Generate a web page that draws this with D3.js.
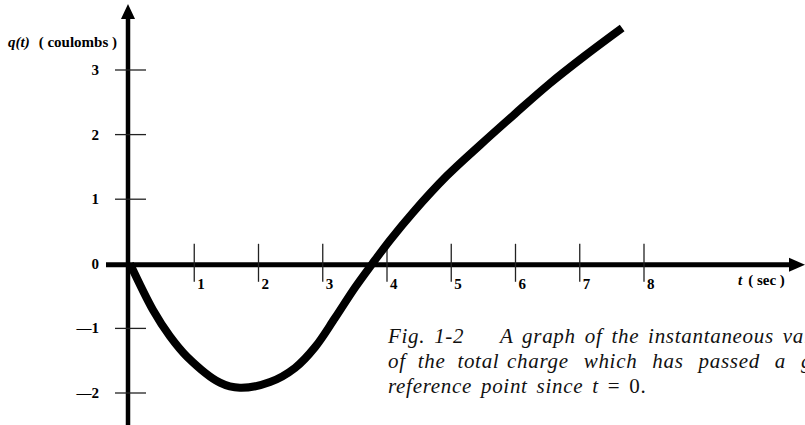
<!doctype html>
<html lang="en">

<head>
    <meta charset="UTF-8" />
    <script src="https://d3js.org/d3.v7.min.js"></script>
    <title>q(t)</title>
    <style>
        body { margin: 0; background: #fff; }
    </style>
</head>

<body>
    <div id="chart"></div>
    <script>
        // Values
        const tValues = [0, 0.36, 0.62, 0.89, 1.40, 1.71, 2.18, 2.57, 2.88, 3.19, 3.50, 3.77, 4.05, 4.40, 4.93, 5.45, 5.99, 6.52, 7.08, 7.66]
        const qValues = [0, -0.72, -1.12, -1.44, -1.84, -1.92, -1.83, -1.61, -1.29, -0.84, -0.37, 0, 0.37, 0.79, 1.36, 1.84, 2.32, 2.78, 3.22, 3.65]
        const xTicks = [1, 2, 3, 4, 5, 6, 7, 8]
        const yTicks = [-2, -1, 0, 1, 2, 3]
        const captionLines = [
            ["Fig. 1-2", "A graph of the instantaneous value"],
            ["of the total", "charge which has passed a given"]
        ]

        const W = 805, H = 425
        const SERIF = "'Liberation Serif', 'Times New Roman', 'DejaVu Serif', serif"
        const data = tValues.map((t, i) => ({ t: t, q: qValues[i] }))

        const x = d3.scaleLinear().domain([0, 8]).range([130, 644])
        const y = d3.scaleLinear().domain([-2, 3]).range([393, 70])

        const svg = d3.select("#chart").append("svg")
            .attr("width", W)
            .attr("height", H)

        const x0 = x(0) - 2, y0 = y(0) + 1

        // axes
        svg.append("line")
            .attr("x1", x0).attr("x2", x0)
            .attr("y1", 16).attr("y2", H)
            .attr("stroke", "#000").attr("stroke-width", 4.5)
        svg.append("path")
            .attr("d", `M${x0},4 L${x0 - 7},19 L${x0 + 7},19 Z`)
            .attr("fill", "#000")

        svg.append("line")
            .attr("x1", 106).attr("x2", 792)
            .attr("y1", y0).attr("y2", y0)
            .attr("stroke", "#000").attr("stroke-width", 5)
        svg.append("path")
            .attr("d", `M805,${y0} L789,${y0 - 7} L789,${y0 + 7} Z`)
            .attr("fill", "#000")

        // ticks
        svg.selectAll(".xtick").data(xTicks).enter().append("line")
            .attr("class", "xtick")
            .attr("x1", d => x(d)).attr("x2", d => x(d))
            .attr("y1", y0 - 21).attr("y2", y0 + 17)
            .attr("stroke", "#222").attr("stroke-width", 1.3)

        svg.selectAll(".xlab").data(xTicks).enter().append("text")
            .attr("class", "xlab")
            .attr("x", d => x(d) + 3)
            .attr("y", 289)
            .attr("font-family", SERIF)
            .attr("font-weight", "bold")
            .attr("font-size", 15)
            .text(d => d)

        svg.selectAll(".ytick").data(yTicks.filter(d => d !== 0)).enter().append("line")
            .attr("class", "ytick")
            .attr("x1", 115).attr("x2", 146)
            .attr("y1", d => y(d)).attr("y2", d => y(d))
            .attr("stroke", "#222").attr("stroke-width", 1.3)

        svg.selectAll(".ylab").data(yTicks).enter().append("text")
            .attr("class", "ylab")
            .attr("x", 99)
            .attr("y", d => y(d) + 5)
            .attr("text-anchor", "end")
            .attr("font-family", SERIF)
            .attr("font-weight", "bold")
            .attr("font-size", 15)
            .text(d => d < 0 ? "\u2014" + Math.abs(d) : d)

        // axis titles
        const yTitle = svg.append("text")
            .attr("x", 8).attr("y", 47)
            .attr("font-family", SERIF)
            .attr("font-weight", "bold")
            .attr("font-size", 15)
        yTitle.append("tspan").attr("font-style", "italic").text("q(t)")
        yTitle.append("tspan").attr("dx", 9).text("( coulombs )")

        const xTitle = svg.append("text")
            .attr("x", 738).attr("y", 285)
            .attr("font-family", SERIF)
            .attr("font-weight", "bold")
            .attr("font-size", 15)
        xTitle.append("tspan").attr("font-style", "italic").text("t")
        xTitle.append("tspan").attr("dx", 6).text("( sec )")

        // curve
        const line = d3.line()
            .x(d => x(d.t))
            .y(d => y(d.q))
            .curve(d3.curveCatmullRom.alpha(0.5))

        svg.append("path")
            .datum(data)
            .attr("d", line)
            .attr("fill", "none")
            .attr("stroke", "#000")
            .attr("stroke-width", 8)
            .attr("stroke-linecap", "butt")

        // caption (runs off the right edge like the original, justified lines)
        const cap = svg.append("g")
            .attr("font-family", SERIF)
            .attr("font-style", "italic")
            .attr("font-size", 21)
            .attr("letter-spacing", 0.7)
            .attr("fill", "#111")

        captionLines.forEach((ln, i) => {
            const by = 343 + i * 25
            cap.append("text").attr("x", 388).attr("y", by)
                .attr("word-spacing", i === 0 ? 3 : 6).text(ln[0])
            cap.append("text").attr("x", i === 0 ? 500 : 507).attr("y", by)
                .attr("word-spacing", i === 0 ? 3 : 9).text(ln[1])
        })
        const last = cap.append("text").attr("x", 388).attr("y", 393).attr("word-spacing", 3)
        last.append("tspan").text("reference point since ")
        last.append("tspan").text("t")
        last.append("tspan").attr("font-style", "normal").text(" = 0.")
    </script>
</body>

</html>
